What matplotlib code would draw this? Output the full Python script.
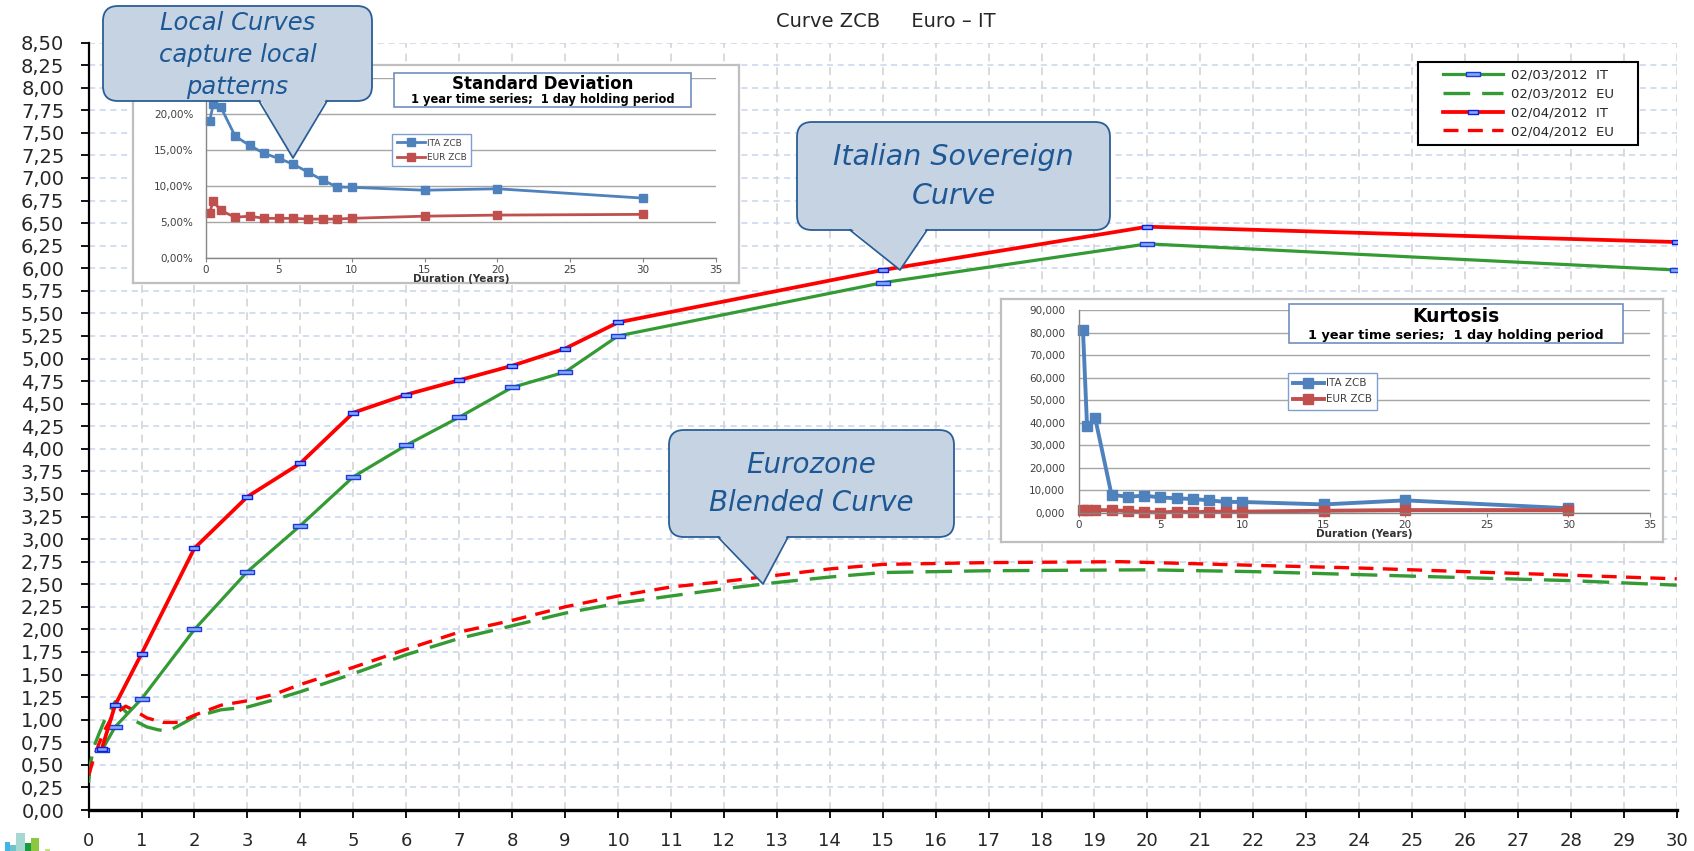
import numpy as np
import matplotlib
matplotlib.use('Agg')
import matplotlib.pyplot as plt
from matplotlib.patches import FancyBboxPatch, Polygon, Rectangle
from matplotlib.path import Path
from matplotlib.lines import Line2D
from matplotlib.legend_handler import HandlerLine2D
from matplotlib.transforms import Affine2D

# ---------------- data ----------------
# Main chart: zero-coupon curves (durations in years, rates in %)
it_dur = [0.25, 0.5, 1, 2, 3, 4, 5, 6, 7, 8, 9, 10, 15, 20, 30]
it_0203 = [0.66, 0.92, 1.23, 2.00, 2.64, 3.15, 3.69, 4.04, 4.35, 4.68, 4.85, 5.25, 5.84, 6.27, 5.98]
it_0204 = [0.68, 1.16, 1.73, 2.90, 3.47, 3.84, 4.40, 4.60, 4.76, 4.92, 5.11, 5.40, 5.98, 6.46, 6.29]

eu_0203_dur = [0, 0.03, 0.1, 0.2, 0.3, 0.5, 0.6, 0.75, 0.9, 1.1, 1.3, 1.5, 1.75, 2, 2.5,
               3, 3.5, 4, 5, 6, 7, 8, 9, 10, 11, 12, 13, 14, 15, 17, 20, 22, 25, 28, 30]
eu_0203 = [0.30, 0.50, 0.70, 0.85, 0.99, 1.20, 1.15, 1.06, 0.98, 0.92, 0.89, 0.87, 0.95, 1.03, 1.11,
           1.14, 1.22, 1.31, 1.51, 1.72, 1.90, 2.04, 2.18, 2.29, 2.37, 2.45, 2.52, 2.58, 2.63, 2.65,
           2.66, 2.64, 2.59, 2.54, 2.49]

eu_0204_dur = [0, 0.1, 0.2, 0.3, 0.45, 0.7, 0.9, 1.1, 1.4, 1.7, 2, 2.5, 3, 3.5, 4, 5, 6, 7, 8, 9,
               10, 11, 12, 13, 14, 15, 17, 19.5, 22, 24, 26, 28, 30]
eu_0204 = [0.38, 0.58, 0.74, 0.88, 1.04, 1.15, 1.09, 1.02, 0.97, 0.97, 1.05, 1.16, 1.21, 1.28, 1.39,
           1.58, 1.78, 1.97, 2.10, 2.25, 2.37, 2.47, 2.53, 2.60, 2.67, 2.72, 2.74, 2.75, 2.71, 2.68,
           2.64, 2.60, 2.56]

series_labels = ['02/03/2012  IT', '02/03/2012  EU', '02/04/2012  IT', '02/04/2012  EU']
chart_title = 'Curve ZCB     Euro – IT'

x_ticks = list(range(0, 31))
x_tick_labels = [str(v) for v in x_ticks]
y_ticks = [i * 0.25 for i in range(35)]
y_tick_labels = [f'{v:.2f}'.replace('.', ',') for v in y_ticks]

# Inset 1: standard deviation (%)
sd_dur = [0.25, 0.5, 1, 2, 3, 4, 5, 6, 7, 8, 9, 10, 15, 20, 30]
sd_ita = [19.0, 21.3, 21.0, 16.9, 15.6, 14.5, 13.8, 13.0, 11.9, 10.8, 9.85, 9.8, 9.4, 9.6, 8.3]
sd_eur = [6.3, 7.9, 6.6, 5.65, 5.8, 5.5, 5.5, 5.5, 5.4, 5.4, 5.4, 5.5, 5.8, 5.95, 6.05]
sd_yticks = [0, 5, 10, 15, 20, 25]
# top label (25%) is hidden behind the callout in the reference
sd_yticklabels = ['0,00%', '5,00%', '10,00%', '15,00%', '20,00%', '']

# Inset 2: kurtosis
ku_dur = [0.25, 0.5, 1, 2, 3, 4, 5, 6, 7, 8, 9, 10, 15, 20, 30]
ku_ita = [81000, 38500, 42000, 8100, 7200, 7700, 6900, 6500, 6200, 5600, 4900, 4900, 3800, 5600, 2100]
ku_eur = [1300, 1400, 1300, 1200, 900, 500, 200, 600, 300, 600, 600, 600, 1000, 1300, 1300]
ku_yticks = [0, 10000, 20000, 30000, 40000, 50000, 60000, 70000, 80000, 90000]
ku_yticklabels = ['0,000', '10,000', '20,000', '30,000', '40,000', '50,000', '60,000',
                  '70,000', '80,000', '90,000']
inset_xticks = [0, 5, 10, 15, 20, 25, 30, 35]
inset_labels = ['ITA ZCB', 'EUR ZCB']
inset_sub = '1 year time series;  1 day holding period'

# ---------------- figure ----------------
W, H, DPI = 1694, 851, 100
fig = plt.figure(figsize=(W / DPI, H / DPI), dpi=DPI, facecolor='white')
PX = Affine2D().scale(1 / W, -1 / H).translate(0, 1) + fig.transFigure


def frect(x0, y0, x1, y1):
    return [x0 / W, 1 - y1 / H, (x1 - x0) / W, (y1 - y0) / H]


GREEN = '#349A34'
RED = '#FF0000'
TXT = '#262626'

ax = fig.add_axes(frect(88.6, 42.5, 1676.8, 810))
ax.set_xlim(0, 30)
ax.set_ylim(0, 8.5)
ax.set_xticks(x_ticks)
ax.set_xticklabels(x_tick_labels)
ax.set_yticks(y_ticks)
ax.set_yticklabels(y_tick_labels)
ax.grid(axis='y', color='#C8D5EE', linestyle=(0, (4, 3)), linewidth=1.1)
ax.grid(axis='x', color='#DADADA', linestyle=(0, (4, 3)), linewidth=1.4)
ax.set_axisbelow(True)
for s in ['top', 'right']:
    ax.spines[s].set_visible(False)
ax.spines['left'].set_linewidth(1.6)
ax.spines['bottom'].set_linewidth(2.4)
ax.tick_params(axis='both', direction='out', length=5.5, width=1.3, color='black',
               labelsize=13, labelcolor=TXT)
ax.tick_params(axis='y', pad=12, labelsize=14)
ax.tick_params(axis='x', pad=10)

mpath = Path([(-1, -0.32), (1, -0.32), (1, 0.32), (-1, 0.32), (-1, -0.32)],
             [Path.MOVETO, Path.LINETO, Path.LINETO, Path.LINETO, Path.CLOSEPOLY])

l1, = ax.plot(it_dur, it_0203, color=GREEN, lw=2.3, marker=mpath, ms=10, mfc='#86A8F5',
              mec='#1A3DE0', mew=1.0, label=series_labels[0], zorder=4)
l2, = ax.plot(eu_0203_dur, eu_0203, color=GREEN, lw=2.4, dashes=(8, 3.6),
              label=series_labels[1], zorder=3)
l3, = ax.plot(it_dur, it_0204, color=RED, lw=2.7, marker=mpath, ms=7, mfc='#86A8F5',
              mec='#0A1EE8', mew=1.0, label=series_labels[2], zorder=4)
l4, = ax.plot(eu_0204_dur, eu_0204, color=RED, lw=2.4, dashes=(4.5, 2.8),
              label=series_labels[3], zorder=3)

leg = ax.legend(handles=[l1, l2, l3, l4], labels=[t + '    ' for t in series_labels],
                loc='upper left', bbox_to_anchor=(1417.7 / W, 1 - 61.7 / H),
                bbox_transform=fig.transFigure, borderaxespad=0, fancybox=False,
                edgecolor='black', framealpha=1, prop={'size': 9.5}, handlelength=6.0,
                handletextpad=0.6, labelspacing=0.45, borderpad=0.5, numpoints=1,
                handler_map={Line2D: HandlerLine2D(numpoints=1, xpad=1.4)})
leg.get_frame().set_linewidth(1.5)
for t in leg.get_texts():
    t.set_color(TXT)

BLUE_S = '#4F81BD'
RED_S = '#C0504D'
GRID_S = '#A6A6A6'
AX_S = '#868686'
LAB_S = '#404040'


def make_inset(box, area, xlim, ylim, yticks, yticklabels, xs, ys1, ys2, title, tsize,
               subsize, tbox, legpos, fs_tick, lw, ms, ypad, title_y, sub_y):
    bg = fig.add_axes(frect(*box))
    bg.set_xticks([])
    bg.set_yticks([])
    for s in bg.spines.values():
        s.set_color('#BFBFBF')
        s.set_linewidth(1.6)
    a = fig.add_axes(frect(*area))
    a.patch.set_alpha(0)
    a.set_xlim(*xlim)
    a.set_ylim(*ylim)
    a.set_xticks(inset_xticks)
    a.set_xticklabels([str(v) for v in inset_xticks])
    a.set_yticks(yticks)
    a.set_yticklabels(yticklabels)
    a.grid(axis='y', color=GRID_S, lw=1.0)
    a.set_axisbelow(True)
    for s in ['top', 'right']:
        a.spines[s].set_visible(False)
    for s in ['left', 'bottom']:
        a.spines[s].set_color(AX_S)
        a.spines[s].set_linewidth(1.0)
    a.tick_params(axis='y', length=0, pad=ypad, labelsize=fs_tick, labelcolor=LAB_S)
    a.tick_params(axis='x', length=3, color=AX_S, pad=2, labelsize=fs_tick, labelcolor=LAB_S)
    p1, = a.plot(xs, ys1, color=BLUE_S, lw=lw, marker='s', ms=ms, label=inset_labels[0],
                 clip_on=False)
    p2, = a.plot(xs, ys2, color=RED_S, lw=lw, marker='s', ms=ms, label=inset_labels[1],
                 clip_on=False)
    a.set_xlabel('Duration (Years)', fontsize=fs_tick, fontweight='bold', color='#333333',
                 labelpad=-1)
    x0, y0, x1, y1 = tbox
    a.add_patch(Rectangle((x0, y0), x1 - x0, y1 - y0, transform=PX, fc='white',
                          ec='#6F8FC0', lw=1.2, clip_on=False, zorder=5))
    cx = (x0 + x1) / 2
    a.text(cx, title_y, title, transform=PX, ha='center', va='center', fontsize=tsize,
           fontweight='bold', color='black', zorder=6)
    a.text(cx, sub_y, inset_sub, transform=PX, ha='center', va='center', fontsize=subsize,
           fontweight='bold', color='black', zorder=6)
    lg = a.legend(handles=[p1, p2], loc='upper left',
                  bbox_to_anchor=(legpos[0] / W, 1 - legpos[1] / H),
                  bbox_transform=fig.transFigure, borderaxespad=0, fancybox=False,
                  edgecolor='#7F9FCF', framealpha=1, prop={'size': legpos[2]},
                  handlelength=legpos[3], handletextpad=0.2, labelspacing=0.6,
                  borderpad=0.5, numpoints=1)
    for t in lg.get_texts():
        t.set_color(LAB_S)
    return a


make_inset((133, 65, 739, 283), (206, 77.7, 716, 258), (0, 35), (0, 25), sd_yticks,
           sd_yticklabels, sd_dur, sd_ita, sd_eur, 'Standard Deviation', 12, 8.3,
           (394, 72.7, 691, 107.3), (392, 134, 6.5, 3.2), 7.5, 2.0, 6, 9, 84, 100)
make_inset((1001, 299, 1663, 542), (1078.9, 310, 1650, 513), (0, 35), (0, 90000), ku_yticks,
           ku_yticklabels, ku_dur, ku_ita, ku_eur, 'Kurtosis', 13.5, 9.3,
           (1289, 304, 1623, 343), (1287.5, 373, 7.5, 3.0), 7.5, 2.8, 7.5, 10, 317, 335)

# ---------------- overlay: title, callouts, logo ----------------
ov = fig.add_axes([0, 0, 1, 1])
ov.set_xlim(0, W)
ov.set_ylim(H, 0)
ov.axis('off')
ov.patch.set_alpha(0)

ov.text(886, 21.6, chart_title, ha='center', va='center', fontsize=14, color=TXT)

FILL = '#C6D3E3'
EDGE = '#2A5E96'
CTXT = '#1D5895'


def callout(x0, y0, x1, y1, bl, br, tip, lines, ys, fs):
    ov.add_patch(FancyBboxPatch((x0, y0), x1 - x0, y1 - y0,
                                boxstyle='round,pad=0,rounding_size=15',
                                fc=FILL, ec=EDGE, lw=1.3, zorder=1))
    ov.add_patch(Polygon([(bl + 1, y1 - 1.5), (br - 1, y1 - 1.5), tip], closed=True,
                         fc=FILL, ec='none', zorder=2))
    ov.plot([bl, tip[0], br], [y1, tip[1], y1], color=EDGE, lw=1.3, zorder=3)
    cx = (x0 + x1) / 2
    for t, y in zip(lines, ys):
        ov.text(cx, y, t, ha='center', va='center', fontsize=fs, style='italic',
                family='DejaVu Sans', color=CTXT, zorder=4)


callout(103, 6, 372, 101, 259, 327, (293, 158), ['Local Curves', 'capture local', 'patterns'],
        [23, 55, 87], 17.5)
callout(797, 122, 1110, 230, 850, 927, (900, 270), ['Italian Sovereign', 'Curve'],
        [157, 196], 20.5)
callout(669, 430, 954, 537, 718, 788, (763, 584), ['Eurozone', 'Blended Curve'],
        [465, 503], 20)

# small logo fragment bottom-left
logo = [(5, 10, 841.7, '#41B6E6'), (10, 16, 845, '#6FC2C9'), (16, 25, 833.3, '#A7D7D1'),
        (25, 30.7, 843.3, '#1B9B3E'), (30.7, 39.3, 838.3, '#8DC63F'), (45, 50, 849.3, '#C5E17A')]
for xa, xb, yt, c in logo:
    ov.add_patch(Rectangle((xa, yt), xb - xa, H - yt, fc=c, ec='none'))

fig.savefig('out.png', dpi=DPI)
